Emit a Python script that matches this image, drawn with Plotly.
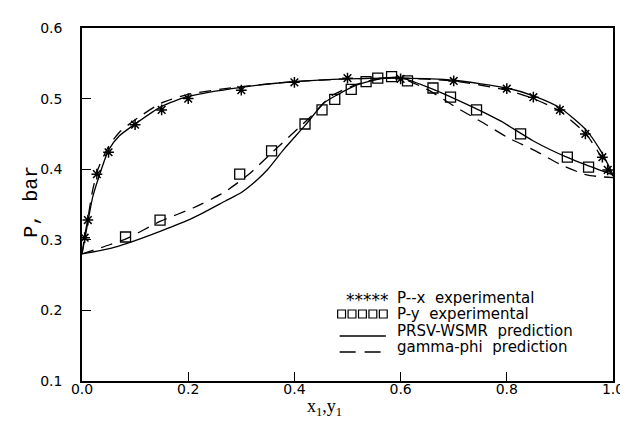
import plotly.graph_objects as go

# ---- experimental data ----
px_x = [0.005, 0.011, 0.028, 0.05, 0.10, 0.15, 0.20, 0.30, 0.40, 0.50, 0.60, 0.70, 0.80, 0.85, 0.90, 0.948, 0.98, 0.99]
px_P = [0.303, 0.328, 0.393, 0.424, 0.463, 0.484, 0.500, 0.512, 0.523, 0.529, 0.528, 0.525, 0.514, 0.502, 0.484, 0.450, 0.417, 0.399]

py_y = [0.082, 0.147, 0.297, 0.357, 0.420, 0.452, 0.476, 0.507, 0.535, 0.557, 0.583, 0.613, 0.661, 0.694, 0.743, 0.826, 0.914, 0.954]
py_P = [0.304, 0.328, 0.393, 0.426, 0.464, 0.484, 0.499, 0.513, 0.524, 0.529, 0.531, 0.525, 0.515, 0.502, 0.484, 0.450, 0.417, 0.403]

# ---- PRSV-WSMR prediction (solid) ----
prsv_bub_x = [0, 0.005, 0.011, 0.02, 0.03, 0.05, 0.07, 0.10, 0.15, 0.20, 0.30, 0.40, 0.50, 0.60, 0.70, 0.80, 0.85, 0.90, 0.95, 0.98, 1.0]
prsv_bub_P = [0.280, 0.300, 0.325, 0.360, 0.385, 0.427, 0.447, 0.464, 0.489, 0.503, 0.516, 0.524, 0.528, 0.529, 0.526, 0.515, 0.504, 0.487, 0.455, 0.422, 0.392]
prsv_dew_y = [0, 0.054, 0.085, 0.147, 0.209, 0.27, 0.30, 0.33, 0.35, 0.38, 0.42, 0.456, 0.48, 0.517, 0.561, 0.598, 0.665, 0.727, 0.789, 0.85, 0.913, 0.974, 1.0]
prsv_dew_P = [0.280, 0.288, 0.295, 0.312, 0.331, 0.355, 0.367, 0.385, 0.400, 0.428, 0.462, 0.494, 0.505, 0.519, 0.528, 0.530, 0.512, 0.491, 0.468, 0.440, 0.417, 0.399, 0.392]

# ---- gamma-phi prediction (dashed) ----
gp_bub_x = [0, 0.005, 0.011, 0.02, 0.03, 0.05, 0.07, 0.10, 0.15, 0.20, 0.30, 0.40, 0.50, 0.60, 0.70, 0.80, 0.85, 0.90, 0.95, 0.98, 1.0]
gp_bub_P = [0.280, 0.305, 0.330, 0.370, 0.400, 0.432, 0.452, 0.470, 0.494, 0.506, 0.517, 0.524, 0.528, 0.529, 0.525, 0.512, 0.500, 0.482, 0.449, 0.415, 0.390]
gp_dew_y = [0, 0.052, 0.085, 0.147, 0.209, 0.265, 0.313, 0.357, 0.43, 0.47, 0.52, 0.56, 0.60, 0.65, 0.706, 0.757, 0.804, 0.854, 0.90, 0.95, 1.0]
gp_dew_P = [0.280, 0.293, 0.302, 0.326, 0.345, 0.366, 0.392, 0.423, 0.474, 0.504, 0.521, 0.528, 0.529, 0.513, 0.487, 0.465, 0.444, 0.426, 0.407, 0.392, 0.388]

x_ticks = [0.0, 0.2, 0.4, 0.6, 0.8, 1.0]
x_tick_text = ["0.0", "0.2", "0.4", "0.6", "0.8", "1.0"]
y_ticks = [0.1, 0.2, 0.3, 0.4, 0.5, 0.6]
y_tick_text = ["0.1", "0.2", "0.3", "0.4", "0.5", "0.6"]

legend_labels = ["P--x  experimental", "P-y  experimental", "PRSV-WSMR  prediction", "gamma-phi  prediction"]

fig = go.Figure()
line_kw = dict(color="black", width=1.3, shape="spline", smoothing=0.6)
fig.add_trace(go.Scatter(x=prsv_bub_x, y=prsv_bub_P, mode="lines", line=line_kw, showlegend=False))
fig.add_trace(go.Scatter(x=prsv_dew_y, y=prsv_dew_P, mode="lines", line=line_kw, showlegend=False))
dash_kw = dict(line_kw, dash="12px,8px")
fig.add_trace(go.Scatter(x=gp_bub_x, y=gp_bub_P, mode="lines", line=dash_kw, showlegend=False))
fig.add_trace(go.Scatter(x=gp_dew_y, y=gp_dew_P, mode="lines", line=dash_kw, showlegend=False))
fig.add_trace(go.Scatter(x=px_x, y=px_P, mode="markers",
                         marker=dict(symbol="asterisk-open", size=9, color="black", line=dict(color="black", width=1.5)),
                         showlegend=False))
fig.add_trace(go.Scatter(x=py_y, y=py_P, mode="markers",
                         marker=dict(symbol="square-open", size=10, color="black", line=dict(color="black", width=1.3)),
                         showlegend=False))

L, R, T, B = 74, 614, 20, 373
W, H = 628, 421

def px(xp):
    return (xp - L) / (R - L)

def py(yp):
    return (B - yp) / (B - T)

leg_font = dict(family="DejaVu Sans", size=15, color="black")
rows = [290, 306, 323, 339]
ann = []
for lab, r in zip(legend_labels, rows):
    ann.append(dict(x=px(392), y=py(r), xref="paper", yref="paper", text=lab, showarrow=False,
                    xanchor="left", yanchor="middle", font=leg_font))
ann.append(dict(x=px(388), y=py(rows[0] + 2), xref="paper", yref="paper", text="*****", showarrow=False,
                xanchor="right", yanchor="middle", font=dict(family="DejaVu Sans", size=17, color="black")))
ann.append(dict(x=px(22), y=py(194), xref="paper", yref="paper", text="P, bar", showarrow=False,
                textangle=-90, xanchor="center", yanchor="middle",
                font=dict(family="Liberation Mono", size=20, color="black")))
ann.append(dict(x=px(321), y=py(400), xref="paper", yref="paper", text="x<sub>1</sub>,y<sub>1</sub>", showarrow=False,
                xanchor="center", yanchor="middle",
                font=dict(family="Liberation Serif", size=18, color="black")))

shapes = [
    dict(type="line", xref="paper", yref="paper", x0=px(336), x1=px(383), y0=py(328), y1=py(328),
         line=dict(color="black", width=1.3)),
    dict(type="line", xref="paper", yref="paper", x0=px(336), x1=px(378), y0=py(344), y1=py(344),
         line=dict(color="black", width=1.3, dash="16px,9px")),
]
# legend square glyphs
for k in range(5):
    cx = 338 + k * 10.6
    shapes.append(dict(type="rect", xref="paper", yref="paper",
                       x0=px(cx - 4), x1=px(cx + 4), y0=py(rows[1] + 4), y1=py(rows[1] - 4),
                       line=dict(color="black", width=1.2)))

axis_common = dict(showline=True, linecolor="black", linewidth=1.5, mirror=True, ticks="inside",
                   ticklen=9, tickwidth=1.3, tickcolor="black", showgrid=False, zeroline=False,
                   tickfont=dict(family="DejaVu Sans", size=14, color="black"))

fig.update_layout(
    width=W, height=H,
    margin=dict(l=L, r=W - R, t=T, b=H - B),
    paper_bgcolor="white", plot_bgcolor="white",
    xaxis=dict(range=[0, 1], tickvals=x_ticks, ticktext=x_tick_text, ticklabelstandoff=-6, **axis_common),
    yaxis=dict(range=[0.1, 0.6], tickvals=y_ticks, ticktext=y_tick_text, ticklabelstandoff=15, **axis_common),
    annotations=ann, shapes=shapes,
)

fig.write_html("out.html")
